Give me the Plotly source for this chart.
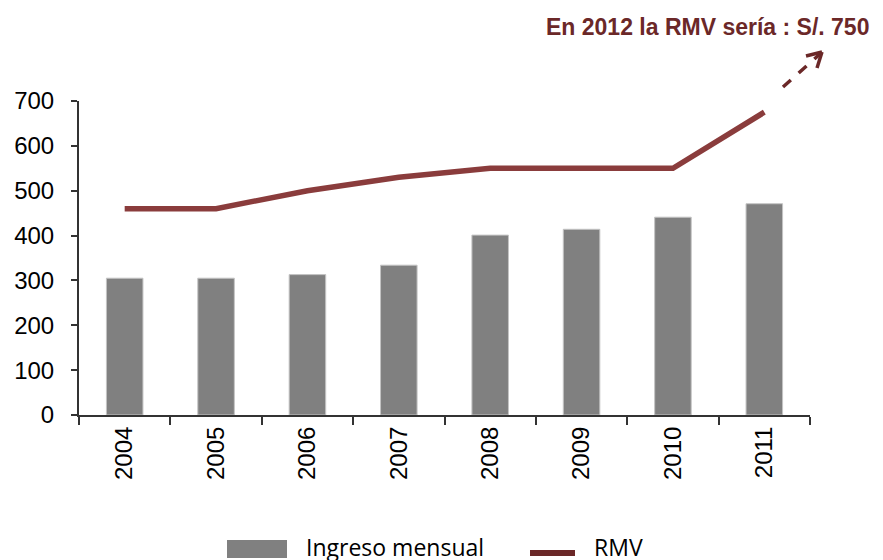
import plotly.graph_objects as go

# datos
years = ["2004", "2005", "2006", "2007", "2008", "2009", "2010", "2011"]
ingreso = [305, 305, 313, 334, 401, 414, 441, 471]
rmv = [460, 460, 500, 530, 550, 550, 550, 675]
y_ticks = [0, 100, 200, 300, 400, 500, 600, 700]
nota = "En 2012 la RMV sería : S/. 750"

BAR_COLOR = "#808080"
LINE_COLOR = "#8A3C3C"
DARK_RED = "#6B2828"
FONT = "Liberation Sans, Arial, sans-serif"


def make_figure():
    fig = go.Figure()

    fig.add_trace(
        go.Bar(
            x=years,
            y=ingreso,
            name="Ingreso mensual",
            marker=dict(color=BAR_COLOR, line=dict(color="#c4c4c4", width=1)),
            width=0.4,
        )
    )
    fig.add_trace(
        go.Scatter(
            x=years,
            y=rmv,
            name="RMV",
            mode="lines",
            line=dict(color=LINE_COLOR, width=5.5),
        )
    )

    # the page adds 8px of body margin, so the margins are shifted by it
    fig.update_layout(
        width=883,
        height=560,
        margin=dict(l=71, r=81, t=93, b=153),
        plot_bgcolor="white",
        paper_bgcolor="white",
        showlegend=False,
        font=dict(family=FONT, size=20, color="black"),
    )
    fig.update_yaxes(
        range=[0, 700],
        tickvals=y_ticks,
        showgrid=False,
        zeroline=False,
        showline=True,
        linecolor="#333333",
        linewidth=2,
        ticks="outside",
        ticklen=6,
        tickwidth=2,
        tickcolor="#333333",
        ticklabelstandoff=12,
        tickfont=dict(size=24),
        automargin=False,
    )
    fig.update_xaxes(
        type="category",
        range=[-0.5, 7.5],
        showgrid=False,
        showline=True,
        linecolor="#333333",
        linewidth=2,
        ticks="outside",
        tickson="boundaries",
        ticklen=8,
        tickwidth=2,
        tickcolor="#333333",
        tickangle=-90,
        tickfont=dict(size=24),
        automargin=False,
    )

    def px(x):
        return (x - 79) / 731

    def py(y):
        return (415 - y) / 314

    # nota y flecha discontinua
    fig.add_annotation(
        text="<b>" + nota + "</b>",
        xref="paper", yref="paper",
        x=px(707), y=py(27), xanchor="center", yanchor="middle",
        showarrow=False,
        font=dict(size=23, color=DARK_RED, family=FONT),
    )
    fig.add_shape(
        type="line", xref="paper", yref="paper",
        x0=px(783), y0=py(87), x1=px(820), y1=py(54),
        line=dict(color=DARK_RED, width=3.5, dash="dash"),
    )
    for hx, hy in [(806, 56), (817, 68)]:
        fig.add_shape(
            type="line", xref="paper", yref="paper",
            x0=px(hx), y0=py(hy), x1=px(822), y1=py(52),
            line=dict(color=DARK_RED, width=3.5),
        )

    # leyenda manual
    fig.add_shape(
        type="rect", xref="paper", yref="paper",
        x0=px(227), y0=py(558), x1=px(287), y1=py(540),
        fillcolor=BAR_COLOR, line=dict(width=0),
    )
    fig.add_shape(
        type="line", xref="paper", yref="paper",
        x0=px(530), y0=py(553), x1=px(575), y1=py(553),
        line=dict(color=DARK_RED, width=6),
    )
    fig.add_annotation(
        text="Ingreso mensual", xref="paper", yref="paper",
        x=px(304), y=py(565), xanchor="left", yanchor="bottom",
        showarrow=False,
        font=dict(size=23, color="black", family="Open Sans, sans-serif"),
    )
    fig.add_annotation(
        text="RMV", xref="paper", yref="paper",
        x=px(592), y=py(565), xanchor="left", yanchor="bottom",
        showarrow=False,
        font=dict(size=23, color="black", family="Open Sans, sans-serif"),
    )
    return fig


def main():
    fig = make_figure()
    fig.write_html("out.html")


if __name__ == "__main__":
    main()
